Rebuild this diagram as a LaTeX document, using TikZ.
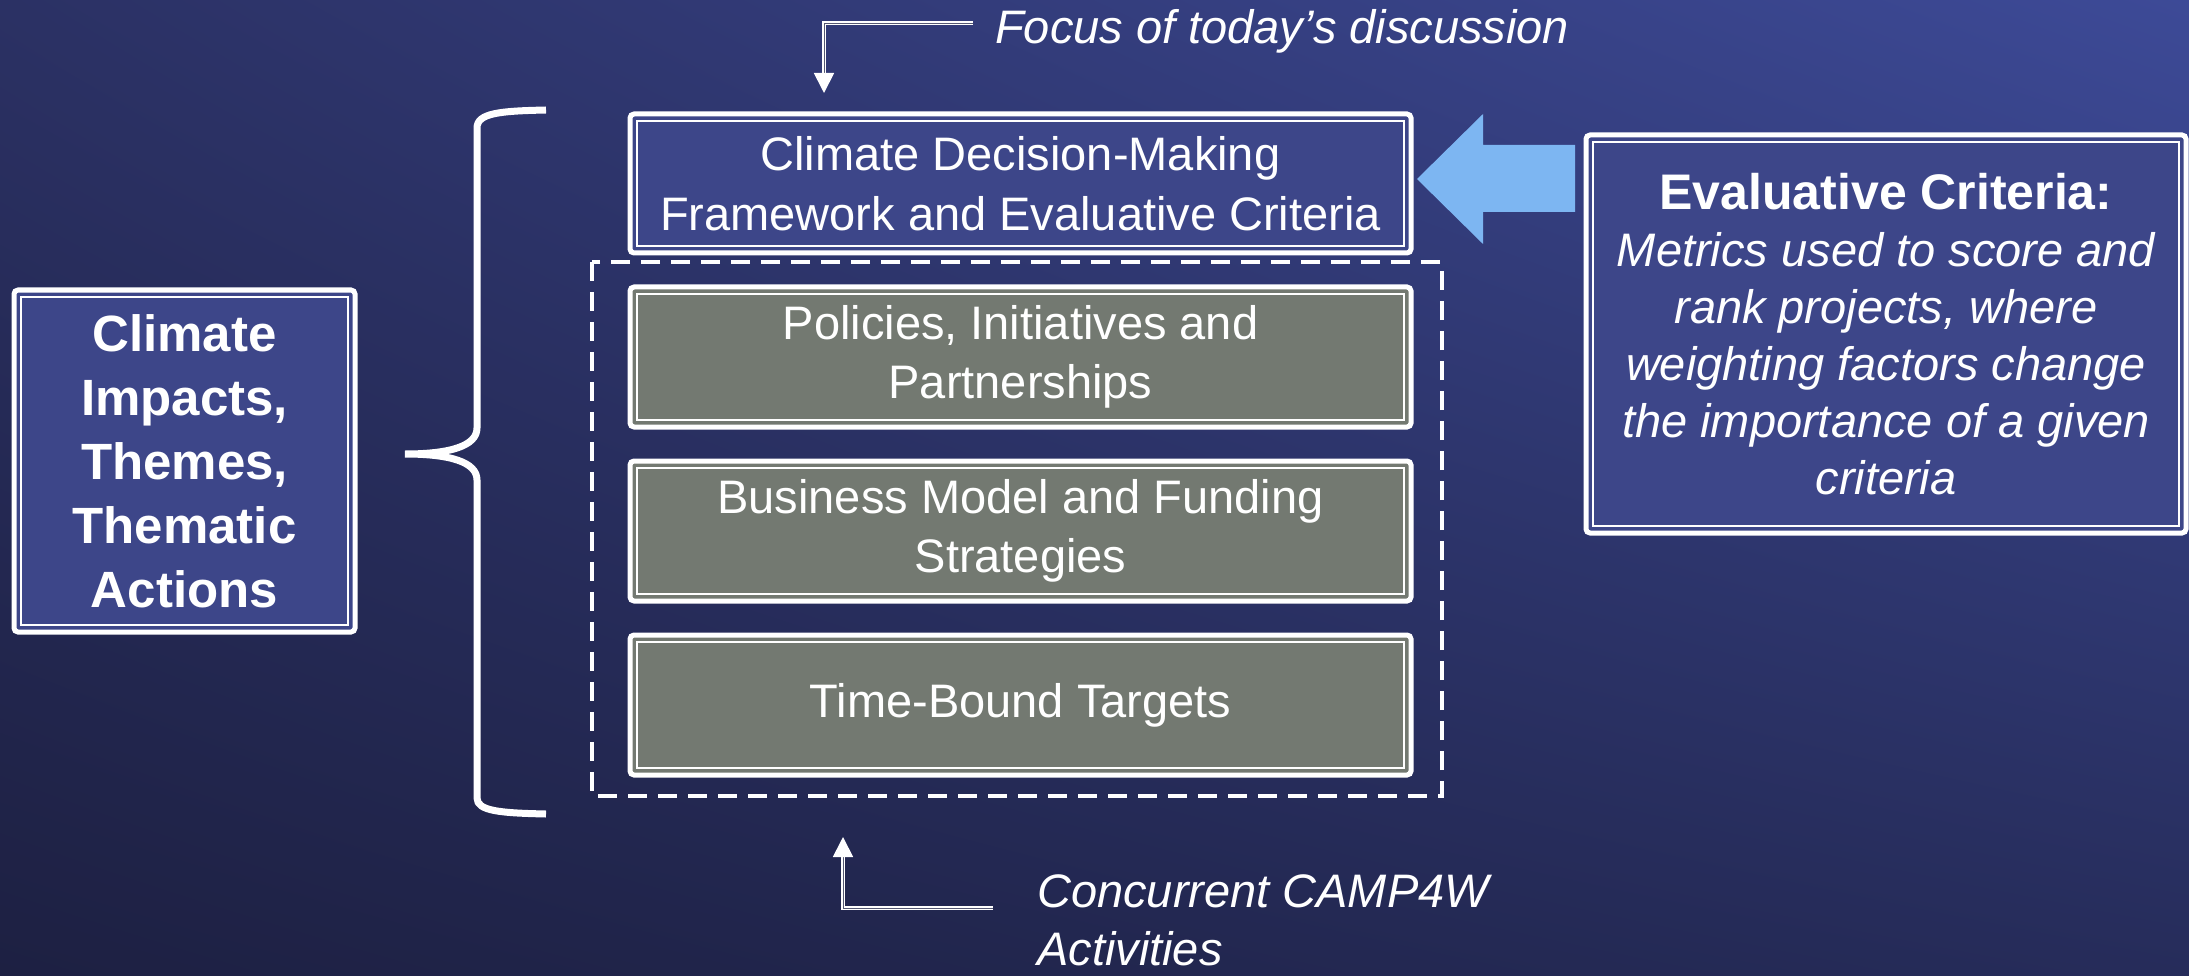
\documentclass[tikz,border=0pt]{standalone}
\usepackage{fontspec}
\setmainfont{Liberation Sans}
\usetikzlibrary{arrows.meta,positioning,shadings}
\definecolor{bgTL}{HTML}{2B3164}
\definecolor{bgTR}{HTML}{3D4A97}
\definecolor{bgBL}{HTML}{1D2042}
\definecolor{bgBR}{HTML}{262C5A}
\definecolor{boxblue}{HTML}{3D4689}
\definecolor{boxgray}{HTML}{737971}
\definecolor{arrowblue}{HTML}{7DB6F2}
\begin{document}
\begin{tikzpicture}[x=1pt,y=-1pt,
  framed/.style={draw=white,line width=5pt,rounded corners=4pt,text=white,align=center,inner sep=0pt,
    path picture={\draw[white,line width=2pt,sharp corners]
      ([shift={(7pt,-7pt)}]path picture bounding box.north west) rectangle
      ([shift={(-7pt,7pt)}]path picture bounding box.south east);}},
  bluebox/.style={framed,fill=boxblue},
  graybox/.style={framed,fill=boxgray,minimum width=781,minimum height=140,font=\fontsize{47}{59}\selectfont},
  elbow/.style={draw=white,line width=1.8pt,double=gray!50!bgTL,double distance=0.8pt,-{Triangle[length=20pt,width=20pt]}},
  note/.style={text=white,inner sep=0pt,font=\fontsize{47}{60}\selectfont\itshape}]
% background
\shade[upper left=bgTL,upper right=bgTR,lower left=bgBL,lower right=bgBR] (0,0) rectangle (2189,976);
\useasboundingbox (0,0) rectangle (2189,976);
% left box and brace
\node[bluebox,minimum width=341,minimum height=342,font=\fontsize{51}{64}\selectfont\bfseries] (cit) at (184.5,461)
  {Climate\\Impacts,\\Themes,\\Thematic\\Actions};
\draw[white,line width=7pt] (546,110) .. controls (500,111) and (477,113) .. (477,128)
  -- (477,428) .. controls (477,446) and (450,454) .. (405,454)
  .. controls (450,454) and (477,462) .. (477,480)
  -- (477,798) .. controls (477,811) and (500,813) .. (546,814);
% middle column
\node[bluebox,minimum width=781,minimum height=139,font=\fontsize{47}{60}\selectfont] (cdm) at (1020.5,183.5)
  {Climate Decision-Making\\Framework and Evaluative Criteria};
\node[graybox,below=29pt of cdm] (pip) {Policies, Initiatives and\\Partnerships};
\node[graybox,below=29pt of pip] (bmf) {Business Model and Funding\\Strategies};
\node[graybox,below=29pt of bmf] (tbt) {Time-Bound Targets};
\draw[white,line width=4.5pt,dash pattern=on 19pt off 11pt] (592,262) rectangle (1442,796);
% right box and big arrow
\node[bluebox,minimum width=600,minimum height=398,font=\fontsize{47}{57}\selectfont] (evc) at (1886,334)
  {{\fontsize{50}{60}\selectfont\bfseries Evaluative Criteria:}\\\itshape Metrics used to score and\\\itshape rank projects, where\\\itshape weighting factors change\\\itshape the importance of a given\\\itshape criteria};
\fill[arrowblue] (1417,179) -- (1483,114) -- (1483,145) -- (1575,145) -- (1575,212) -- (1483,212) -- (1483,244) -- cycle;
% notes
\node[note,anchor=west] (focus) at (995,31) {Focus of today’s discussion};
\coordinate (focustip) at (824,93);
\draw[elbow] ([shift={(-22pt,8pt)}]focus.west) -| (focustip);
\node[note,anchor=west,align=left,font=\fontsize{47}{58}\selectfont\itshape] (camp) at (1037,920) {Concurrent CAMP4W\\Activities};
\coordinate (camptip) at (843,837);
\draw[elbow] ([shift={(-44pt,12pt)}]camp.west) -| (camptip);
\end{tikzpicture}
\end{document}
